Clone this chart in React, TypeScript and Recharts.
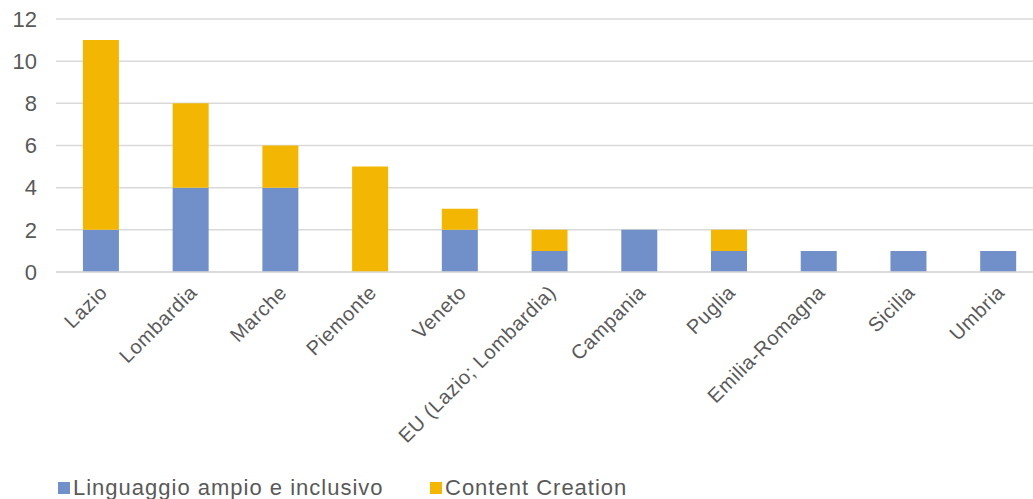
import React from "react";
import { BarChart, Bar, XAxis, YAxis, CartesianGrid, Legend } from "recharts";

const regions = [
  "Lazio",
  "Lombardia",
  "Marche",
  "Piemonte",
  "Veneto",
  "EU (Lazio; Lombardia)",
  "Campania",
  "Puglia",
  "Emilia-Romagna",
  "Sicilia",
  "Umbria",
];
const linguaggio = [2, 4, 4, 0, 2, 1, 2, 1, 1, 1, 1];
const contentCreation = [9, 4, 2, 5, 1, 1, 0, 1, 0, 0, 0];
const yTicks = [0, 2, 4, 6, 8, 10, 12];

const data = regions.map((region, i) => ({
  region,
  linguaggio: linguaggio[i],
  contentCreation: contentCreation[i],
}));

const BLUE = "#7190c9";
const YELLOW = "#f3b703";
const TEXT = "#595959";
const FONT = "'Liberation Sans', Arial, sans-serif";

const RegionTick = ({ x, y, payload }: any) => (
  <g transform={`translate(${x + 2},${y + 8})`}>
    <text
      textAnchor="end"
      transform="rotate(-45)"
      fontSize={20}
      letterSpacing={0.6}
      fill={TEXT}
      fontFamily={FONT}
      dy={8}
    >
      {payload.value}
    </text>
  </g>
);

const legendItems = [
  { label: "Linguaggio ampio e inclusivo", color: BLUE, left: 58 },
  { label: "Content Creation", color: YELLOW, left: 430 },
];

const LegendContent = () => (
  <div style={{ position: "relative", height: 28, fontFamily: FONT }}>
    {legendItems.map((item) => (
      <div
        key={item.label}
        style={{
          position: "absolute",
          left: item.left,
          top: 4,
          display: "flex",
          alignItems: "center",
          gap: 3,
          fontSize: 22,
          letterSpacing: 1,
          color: TEXT,
        }}
      >
        <div style={{ width: 12, height: 12, background: item.color }} />
        <span>{item.label}</span>
      </div>
    ))}
  </div>
);

export default function App() {
  return (
    <div
      style={{
        position: "absolute",
        left: 0,
        top: 0,
        width: 1033,
        height: 499,
        overflow: "hidden",
        background: "#fff",
      }}
    >
      <BarChart
        width={1043}
        height={499}
        data={data}
        margin={{ top: 19, right: 0, left: 0, bottom: 0 }}
        barCategoryGap="30%"
      >
        <CartesianGrid vertical={false} stroke="#d9d9d9" strokeWidth={1.5} />
        <XAxis
          dataKey="region"
          interval={0}
          axisLine={{ stroke: "#d9d9d9", strokeWidth: 1.5 }}
          tickLine={false}
          height={199}
          tick={<RegionTick />}
        />
        <YAxis
          width={56}
          domain={[0, 12]}
          ticks={yTicks}
          axisLine={false}
          tickLine={false}
          tickMargin={13}
          tick={{ fontSize: 22, fill: TEXT, fontFamily: FONT }}
        />
        <Legend
          verticalAlign="bottom"
          align="left"
          height={28}
          content={<LegendContent />}
        />
        <Bar
          dataKey="linguaggio"
          name="Linguaggio ampio e inclusivo"
          stackId="a"
          fill={BLUE}
          isAnimationActive={false}
        />
        <Bar
          dataKey="contentCreation"
          name="Content Creation"
          stackId="a"
          fill={YELLOW}
          isAnimationActive={false}
        />
      </BarChart>
    </div>
  );
}
